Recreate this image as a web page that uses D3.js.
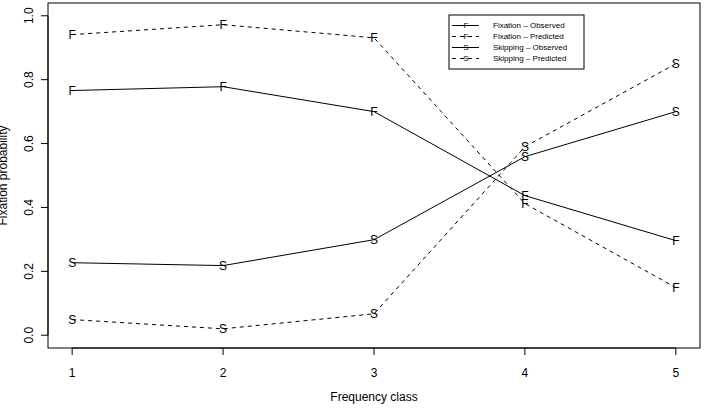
<!DOCTYPE html>
<html>
<head>
<meta charset="utf-8">
<script src="https://cdn.jsdelivr.net/npm/d3@7"></script>
<style>
  body { margin: 0; background: #fff; }
  svg text { font-family: "Liberation Sans", Arial, Helvetica, sans-serif; fill: #000; }
</style>
</head>
<body>
<div id="chart"></div>
<script>
// frequency classes on the x axis
var classes = [1, 2, 3, 4, 5];
var yTicks = [0, 0.2, 0.4, 0.6, 0.8, 1.0];

// values
var fixObserved = [0.766, 0.778, 0.700, 0.437, 0.296];
var fixPredicted = [0.941, 0.972, 0.931, 0.412, 0.149];
var skipObserved = [0.227, 0.218, 0.299, 0.559, 0.700];
var skipPredicted = [0.049, 0.020, 0.067, 0.590, 0.850];

var seriesNames = ["Fixation \u2013 Observed", "Fixation \u2013 Predicted", "Skipping \u2013 Observed", "Skipping \u2013 Predicted"];
var seriesSymbols = ["F", "F", "S", "S"];
var seriesDashed = [false, true, false, true];
var seriesValues = [fixObserved, fixPredicted, skipObserved, skipPredicted];

var vWidth = 704, vHeight = 410;
var box = { left: 48, top: 3, right: 700, bottom: 348 };

var svg = d3.select("#chart").append("svg")
    .attr("width", vWidth)
    .attr("height", vHeight);

// R style 4% extension of the ranges
var x = d3.scaleLinear().domain([0.84, 5.16]).range([box.left, box.right]);
var y = d3.scaleLinear().domain([-0.04, 1.04]).range([box.bottom, box.top]);

// plot box
svg.append("rect")
    .attr("x", box.left).attr("y", box.top)
    .attr("width", box.right - box.left).attr("height", box.bottom - box.top)
    .attr("fill", "none").attr("stroke", "#000").attr("stroke-width", 1);

// x axis
var xAxis = svg.append("g").attr("transform", "translate(0," + box.bottom + ")");
xAxis.append("line")
    .attr("x1", x(1)).attr("x2", x(5)).attr("stroke", "#000");
xAxis.selectAll(".tk").data(classes).enter().append("line")
    .attr("x1", function (d) { return x(d); }).attr("x2", function (d) { return x(d); })
    .attr("y1", 0).attr("y2", 7).attr("stroke", "#000");
xAxis.selectAll(".lb").data(classes).enter().append("text")
    .attr("x", function (d) { return x(d); }).attr("y", 29)
    .attr("text-anchor", "middle").style("font-size", "12px")
    .text(function (d) { return d; });

// y axis
var yAxis = svg.append("g").attr("transform", "translate(" + box.left + ",0)");
yAxis.append("line")
    .attr("y1", y(0)).attr("y2", y(1)).attr("stroke", "#000");
yAxis.selectAll(".tk").data(yTicks).enter().append("line")
    .attr("y1", function (d) { return y(d); }).attr("y2", function (d) { return y(d); })
    .attr("x1", 0).attr("x2", -7).attr("stroke", "#000");
yAxis.selectAll(".lb").data(yTicks).enter().append("text")
    .attr("transform", function (d) { return "translate(-15," + y(d) + ") rotate(-90)"; })
    .attr("text-anchor", "middle").style("font-size", "12px")
    .text(function (d) { return d.toFixed(1); });

// axis titles
svg.append("text")
    .attr("x", (box.left + box.right) / 2).attr("y", 401)
    .attr("text-anchor", "middle").style("font-size", "12px")
    .text("Frequency class");
svg.append("text")
    .attr("transform", "translate(7," + ((box.top + box.bottom) / 2) + ") rotate(-90)")
    .attr("text-anchor", "middle").style("font-size", "12px")
    .text("Fixation probability");

// series
var line = d3.line()
    .x(function (d, i) { return x(classes[i]); })
    .y(function (d) { return y(d); });

seriesValues.forEach(function (vals, k) {
    svg.append("path")
        .attr("d", line(vals))
        .attr("fill", "none").attr("stroke", "#000").attr("stroke-width", 1)
        .attr("stroke-dasharray", seriesDashed[k] ? "4,4" : null);
    svg.selectAll(null).data(vals).enter().append("text")
        .attr("x", function (d, i) { return x(classes[i]); })
        .attr("y", function (d) { return y(d); })
        .attr("dy", "0.36em")
        .attr("text-anchor", "middle").style("font-size", "12px")
        .text(seriesSymbols[k]);
});

// legend
var legend = svg.append("g").attr("transform", "translate(449,15)");
legend.append("rect")
    .attr("width", 135).attr("height", 54)
    .attr("fill", "#fff").attr("stroke", "#000");
seriesNames.forEach(function (name, k) {
    var ry = 10.5 + k * 11;
    legend.append("line")
        .attr("x1", 3).attr("x2", 30).attr("y1", ry).attr("y2", ry)
        .attr("stroke", "#000")
        .attr("stroke-dasharray", seriesDashed[k] ? "4,4" : null);
    legend.append("text")
        .attr("x", 17).attr("y", ry).attr("dy", "0.36em")
        .attr("text-anchor", "middle").style("font-size", "8px")
        .text(seriesSymbols[k]);
    legend.append("text")
        .attr("x", 44).attr("y", ry).attr("dy", "0.36em")
        .style("font-size", "8px")
        .text(name);
});
</script>
</body>
</html>
